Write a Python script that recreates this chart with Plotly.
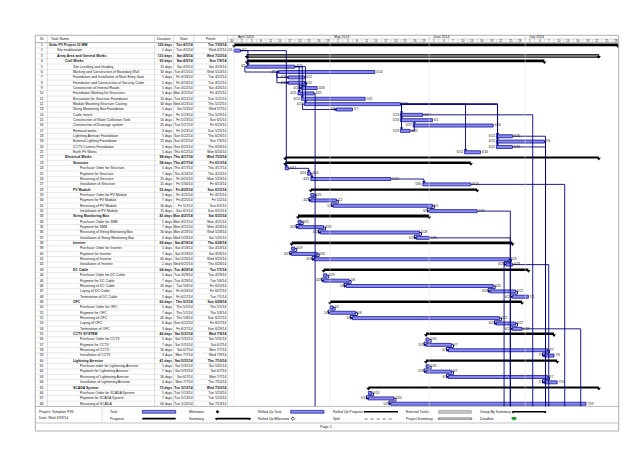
import plotly.graph_objects as go
from datetime import datetime, timedelta

W, H = 638, 452
FONT = "Liberation Sans, Arial, sans-serif"

# ---------------- data ----------------
task_names = [
    "Solar PV Project 10 MW", "Site mobilization", "Array Area and General Works", "Civil Works",
    "Site Levelling and Grading", "Marking and Construction of Boundary Wall",
    "Foundation and Installation of Main Entry Gate", "Foundation and Construction of Security Cabin",
    "Construction of Internal Roads", "Foundation Marking for Structures",
    "Excavation for Structure Foundation", "Module Mounting Structure Casting",
    "String Monitoring Box Foundation", "Cable trench", "Construction of Water Collection Tank",
    "Construction of Drainage system", "Removal works", "Lightning Arrestor Foundation",
    "External Lighting Foundation", "CCTV Camera Foundation", "Earth Pit Works",
    "Electrical Works", "Structure", "Purchase Order for Structure", "Payment for Structure",
    "Receiving of Structure", "Installation of Structure", "PV Module",
    "Purchase Order for PV Module", "Payment for PV Module", "Receiving of PV Module",
    "Installation of PV Module", "String Monitoring Box", "Purchase Order for SMB",
    "Payment for SMB", "Receiving of String Monitoring Box", "Installation of String Monitoring Box",
    "Inverter", "Purchase Order for Inverter", "Payment for Inverter", "Receiving of Inverter",
    "Installation of Inverter", "DC Cable", "Purchase Order for DC Cable", "Payment for DC Cable",
    "Receiving of DC Cable", "Laying of DC Cable", "Termination of DC Cable", "OFC",
    "Purchase Order for OFC", "Payment for OFC", "Receiving of OFC", "Laying of OFC",
    "Termination of OFC", "CCTV SYSTEM", "Purchase Order for CCTV", "Payment for CCTV",
    "Receiving of CCTV", "Installation of CCTV", "Lightning Arrestor",
    "Purchase order for Lightening Arrestor", "Payment for Lightening Arrestor",
    "Receiving of Lightening Arrestor", "Installation of Lightening Arrestor", "SCADA System",
    "Purchase Order for SCADA System", "Payment for SCADA System", "Receiving of SCADA",
]
outline_levels = [0, 1, 1, 2] + [3] * 17 + [2, 3, 4, 4, 4, 4, 3, 4, 4, 4, 4, 3, 4, 4, 4, 4,
                  3, 4, 4, 4, 4, 3, 4, 4, 4, 4, 4, 3, 4, 4, 4, 4, 4, 3, 4, 4, 4, 4,
                  3, 4, 4, 4, 4, 3, 4, 4, 4]
durations = [
    "120 days", "2 days", "110 days", "93 days", "15 days", "30 days", "5 days", "5 days",
    "5 days", "5 days", "20 days", "30 days", "5 days", "7 days", "10 days", "25 days",
    "3 days", "5 days", "15 days", "5 days", "5 days", "98 days", "58 days", "5 days",
    "7 days", "25 days", "15 days", "52 days", "5 days", "7 days", "30 days", "15 days",
    "41 days", "5 days", "7 days", "30 days", "4 days", "69 days", "5 days", "7 days",
    "60 days", "2 days", "64 days", "5 days", "7 days", "45 days", "7 days", "5 days",
    "60 days", "5 days", "7 days", "45 days", "6 days", "3 days", "40 days", "5 days",
    "7 days", "30 days", "3 days", "41 days", "5 days", "7 days", "30 days", "4 days",
    "72 days", "5 days", "7 days", "60 days",
]
start_text = [
    "Tue 4/1/14", "Tue 4/1/14", "Sat 4/5/14", "Sat 4/5/14", "Sat 4/5/14", "Tue 4/15/14",
    "Fri 4/18/14", "Fri 4/18/14", "Tue 4/22/14", "Mon 4/21/14", "Tue 4/22/14", "Wed 4/23/14",
    "Sat 5/3/14", "Fri 5/23/14", "Fri 5/23/14", "Tue 5/27/14", "Fri 5/23/14", "Sun 6/22/14",
    "Sun 6/22/14", "Sun 6/22/14", "Thu 6/12/14", "Thu 4/17/14", "Thu 4/17/14", "Thu 4/17/14",
    "Thu 4/24/14", "Fri 4/25/14", "Fri 5/30/14", "Fri 4/25/14", "Fri 4/25/14", "Fri 4/25/14",
    "Fri 5/2/14", "Sun 6/1/14", "Mon 4/21/14", "Mon 4/21/14", "Mon 4/21/14", "Mon 4/28/14",
    "Wed 5/28/14", "Sat 4/19/14", "Sat 4/19/14", "Sat 4/19/14", "Sat 4/26/14", "Wed 6/25/14",
    "Tue 4/29/14", "Tue 4/29/14", "Tue 4/29/14", "Tue 5/6/14", "Fri 6/20/14", "Fri 6/27/14",
    "Thu 5/1/14", "Thu 5/1/14", "Thu 5/1/14", "Thu 5/8/14", "Sun 6/22/14", "Fri 6/27/14",
    "Sat 5/31/14", "Sat 5/31/14", "Sat 5/31/14", "Sat 6/7/14", "Mon 7/7/14", "Sat 5/31/14",
    "Sat 5/31/14", "Sat 5/31/14", "Sat 6/7/14", "Mon 7/7/14", "Tue 5/13/14", "Tue 5/13/14",
    "Tue 5/13/14", "Tue 5/20/14",
]
finish_text = [
    "Tue 7/29/14", "Wed 4/2/14", "Wed 7/23/14", "Sun 7/6/14", "Sat 4/19/14", "Wed 5/14/14",
    "Tue 4/22/14", "Tue 4/22/14", "Sat 4/26/14", "Fri 4/25/14", "Sun 5/11/14", "Thu 5/22/14",
    "Wed 5/7/14", "Thu 5/29/14", "Sun 6/1/14", "Fri 6/20/14", "Sun 5/25/14", "Thu 6/26/14",
    "Sun 7/6/14", "Thu 6/26/14", "Mon 6/16/14", "Wed 7/23/14", "Fri 6/13/14", "Thu 4/17/14",
    "Thu 4/24/14", "Mon 5/19/14", "Fri 6/13/14", "Sun 6/15/14", "Fri 4/25/14", "Fri 5/2/14",
    "Sun 6/1/14", "Sun 6/15/14", "Sat 5/31/14", "Mon 4/21/14", "Mon 4/28/14", "Wed 5/28/14",
    "Sat 5/31/14", "Thu 6/26/14", "Sat 4/19/14", "Sat 4/26/14", "Wed 6/25/14", "Thu 6/26/14",
    "Tue 7/1/14", "Tue 4/29/14", "Tue 5/6/14", "Fri 6/20/14", "Fri 6/27/14", "Tue 7/1/14",
    "Sun 6/29/14", "Thu 5/1/14", "Thu 5/8/14", "Sun 6/22/14", "Fri 6/27/14", "Sun 6/29/14",
    "Wed 7/9/14", "Sat 5/31/14", "Sat 6/7/14", "Mon 7/7/14", "Wed 7/9/14", "Thu 7/10/14",
    "Sat 5/31/14", "Sat 6/7/14", "Mon 7/7/14", "Thu 7/10/14", "Wed 7/23/14", "Tue 5/13/14",
    "Tue 5/20/14", "Sat 7/19/14",
]
summary_ids = [1, 3, 4, 22, 23, 28, 33, 38, 43, 49, 55, 60, 65]
po_ids = [24, 29, 34, 39, 44, 50, 56, 61, 66]
fs_links = [(2, 5), (2, 24), (8, 9), (5, 10), (5, 11), (5, 12), (12, 14), (12, 15), (12, 17),
            (17, 16), (12, 18), (12, 19), (12, 20), (12, 21),
            (24, 25), (25, 26), (26, 27), (29, 30), (30, 31), (31, 32),
            (34, 35), (35, 36), (36, 37), (39, 40), (40, 41), (41, 42),
            (44, 45), (45, 46), (46, 47), (47, 48), (50, 51), (51, 52), (52, 53), (53, 54),
            (56, 57), (57, 58), (58, 59), (61, 62), (62, 63), (63, 64), (66, 67), (67, 68)]
ss_links = [(5, 6), (6, 7), (6, 8), (12, 13)]
# successors printed on the next page (start dates)
offpage_links = [(10, "Sat 4/26/14"), (14, "Thu 7/3/14"), (18, "Mon 7/7/14"), (19, "Mon 7/7/14"),
                 (20, "Mon 7/7/14"), (27, "Sun 7/13/14"), (32, "Thu 6/26/14"), (37, "Thu 6/26/14"),
                 (41, "Wed 6/25/14"), (42, "Tue 7/8/14"), (54, "Fri 7/18/14")]
timeline_start = "2014-03-30"
month_labels = ["April 2014", "May 2014", "June 2014", "July 2014"]
month_starts = ["2014-04-01", "2014-05-01", "2014-06-01", "2014-07-01"]
header_labels = ["ID", "Task Name", "Duration", "Start", "Finish"]

# ---------------- geometry (pixels) ----------------
def X(px): return px / W
def Y(py): return 1 - py / H

FRAME_L, FRAME_T, FRAME_R, FRAME_B = 27.3, 27.3, 610.7, 423.0
HDR_MID = 31.0
ROW_TOP = 34.6
ROW_H = 5.35
N = len(task_names)
ROW_BOT = ROW_TOP + N * ROW_H
LEG_B = 415.0
GANTT_L = 219.6
PX_PER_DAY = 3.2
COL_LINES = [39.3, 146.7, 165.7, 185.7]

def parse(s):
    m, d, y = s.split()[1].split("/")
    return datetime(2000 + int(y), int(m), int(d))

t0 = datetime.fromisoformat(timeline_start)
t1 = t0 + timedelta(days=(FRAME_R - GANTT_L) / PX_PER_DAY)

ids = list(range(1, N + 1))
S = [parse(s) for s in start_text]
FD = [parse(f) for f in finish_text]
E = [f + timedelta(days=1) for f in FD]

fig = go.Figure()

# ---------------- table ----------------
gx, gy = [], []
for k in range(N + 1):
    gx += [FRAME_L, GANTT_L, None]
    gy += [k + 0.5, k + 0.5, None]
fig.add_trace(go.Scatter(x=gx, y=gy, xaxis="x2", yaxis="y", mode="lines",
                         line=dict(color="#d2d2d2", width=0.5), hoverinfo="skip"))

TFS = 3.45
def bold(i, s):
    return f"<b>{s}</b>" if i in summary_ids else s

INDENT = [41.0, 49.0, 57.0, 65.0, 72.0]
tcols = [
    ([33.6] * N, [str(i) for i in ids], "middle center"),
    ([INDENT[l] for l in outline_levels], [bold(i, n) for i, n in zip(ids, task_names)], "middle right"),
    ([164.2] * N, [bold(i, d) for i, d in zip(ids, durations)], "middle left"),
    ([184.6] * N, [bold(i, d) for i, d in zip(ids, start_text)], "middle left"),
    ([218.4] * N, [bold(i, d) for i, d in zip(ids, finish_text)], "middle left"),
]
for xs, txt, pos in tcols:
    fig.add_trace(go.Scatter(x=xs, y=ids, text=txt, mode="text", textposition=pos,
                             xaxis="x2", yaxis="y", cliponaxis=False,
                             textfont=dict(size=TFS, color="#111111", family=FONT), hoverinfo="skip"))

# ---------------- links ----------------
STUB = timedelta(days=0.6)
LAND = timedelta(days=0.35)
BH = 0.28
lx, ly = [], []
adx, ady, arx, ary = [], [], [], []

def add_fs(pe, yp, ss, ys, offpage=False):
    if ss >= pe:
        sx = ss + LAND
        lx.extend([pe, sx, sx, None]); ly.extend([yp, yp, ys - BH, None])
        if not offpage:
            adx.append(sx); ady.append(ys - BH - 0.2)
    else:
        a, b = pe + STUB, ss - STUB
        lx.extend([pe, a, a, b, b, ss, None]); ly.extend([yp, yp, yp + 0.5, yp + 0.5, ys, ys, None])
        if not offpage:
            arx.append(ss - timedelta(days=0.35)); ary.append(ys)

for p, s in fs_links:
    add_fs(E[p - 1], p, S[s - 1], s)
for p, st in offpage_links:
    add_fs(E[p - 1], p, parse(st), N + 4, offpage=True)
for p, s in ss_links:
    a = S[p - 1] - STUB
    lx.extend([S[p - 1], a, a, S[s - 1], None]); ly.extend([p, p, s, s, None])
    arx.append(S[s - 1] - timedelta(days=0.35)); ary.append(s)

fig.add_trace(go.Scatter(x=lx, y=ly, mode="lines", line=dict(color="#000080", width=0.9),
                         xaxis="x", yaxis="y", hoverinfo="skip"))

# ---------------- bars ----------------
def ms(i):
    return (E[i - 1] - S[i - 1]).total_seconds() * 1000

task_rows = [i for i in ids if i not in summary_ids]
fig.add_trace(go.Bar(orientation="h", y=task_rows, x=[ms(i) for i in task_rows],
                     base=[S[i - 1].strftime("%Y-%m-%d") for i in task_rows], width=0.56,
                     marker=dict(color="#8a8af4", line=dict(color="#15158e", width=0.8)),
                     xaxis="x", yaxis="y", hoverinfo="skip"))

sum_black = [i for i in summary_ids if i != 3]
fig.add_trace(go.Bar(orientation="h", y=sum_black, x=[ms(i) for i in sum_black],
                     base=[S[i - 1].strftime("%Y-%m-%d") for i in sum_black], width=0.34,
                     marker=dict(color="#000000", line=dict(width=0)),
                     xaxis="x", yaxis="y", hoverinfo="skip"))
fig.add_trace(go.Bar(orientation="h", y=[3], x=[ms(3)], base=[S[2].strftime("%Y-%m-%d")], width=0.5,
                     marker=dict(color="#8c8c8c", line=dict(color="#000000", width=0.9)),
                     xaxis="x", yaxis="y", hoverinfo="skip"))
capx, capy = [], []
for i in summary_ids:
    capx += [S[i - 1], E[i - 1]]
    capy += [i + 0.18, i + 0.18]
fig.add_trace(go.Scatter(x=capx, y=capy, mode="markers", xaxis="x", yaxis="y",
                         marker=dict(symbol="triangle-down", size=3.6, color="#000000",
                                     line=dict(width=0)), hoverinfo="skip"))

# arrowheads
fig.add_trace(go.Scatter(x=adx, y=ady, mode="markers", xaxis="x", yaxis="y",
                         marker=dict(symbol="triangle-down", size=3.0, color="#000080", line=dict(width=0)),
                         hoverinfo="skip"))
fig.add_trace(go.Scatter(x=arx, y=ary, mode="markers", xaxis="x", yaxis="y",
                         marker=dict(symbol="triangle-right", size=3.0, color="#000080", line=dict(width=0)),
                         hoverinfo="skip"))

# date labels
def md(d):
    return f"{d.month}/{d.day}"

left_rows = [i for i in task_rows if i not in po_ids]
fig.add_trace(go.Scatter(x=[S[i - 1] - timedelta(days=0.45) for i in left_rows], y=left_rows,
                         text=[md(S[i - 1]) for i in left_rows], mode="text", textposition="middle left",
                         xaxis="x", yaxis="y", cliponaxis=True,
                         textfont=dict(size=3.2, color="#111111", family=FONT), hoverinfo="skip"))
fig.add_trace(go.Scatter(x=[E[i - 1] + timedelta(days=0.45) for i in task_rows], y=task_rows,
                         text=[md(FD[i - 1]) for i in task_rows], mode="text", textposition="middle right",
                         xaxis="x", yaxis="y", cliponaxis=True,
                         textfont=dict(size=3.2, color="#111111", family=FONT), hoverinfo="skip"))

# ---------------- shapes & annotations ----------------
shapes, ann = [], []
GRID = "#a8a8a8"

def pline(x0, y0, x1, y1, color=GRID, width=0.6, dash=None):
    d = dict(type="line", xref="paper", yref="paper", x0=X(x0), y0=Y(y0), x1=X(x1), y1=Y(y1),
             line=dict(color=color, width=width))
    if dash:
        d["line"]["dash"] = dash
    shapes.append(d)

def ptext(x, y, t, size=3.5, anchor="left", color="#111111"):
    ann.append(dict(xref="paper", yref="paper", x=X(x), y=Y(y), text=t, showarrow=False,
                    xanchor=anchor, yanchor="middle", font=dict(size=size, color=color, family=FONT)))

# frame
shapes.append(dict(type="rect", xref="paper", yref="paper", x0=X(FRAME_L), y0=Y(FRAME_B),
                   x1=X(FRAME_R), y1=Y(FRAME_T), line=dict(color="#9a9a9a", width=0.8)))
pline(FRAME_L, ROW_TOP, FRAME_R, ROW_TOP, "#8c8c8c", 0.6)
pline(FRAME_L, ROW_BOT, FRAME_R, ROW_BOT, "#8c8c8c", 0.6)
pline(FRAME_L, LEG_B, FRAME_R, LEG_B, "#9a9a9a", 0.6)
pline(GANTT_L, HDR_MID, FRAME_R, HDR_MID, "#b4b4b4", 0.5)
for cx in COL_LINES + [GANTT_L]:
    pline(cx, FRAME_T, cx, ROW_BOT, "#b8b8b8", 0.5)

# table header
hdr_pos = [(33.6, "center"), (41.0, "left"), (156.2, "center"), (175.7, "center"), (202.6, "center")]
for (hx, anc), lab in zip(hdr_pos, header_labels):
    ptext(hx, 31.0, lab, 3.6, anc)

# timescale header
tick = t0
while tick < t1:
    shapes.append(dict(type="line", xref="x", yref="paper", x0=tick, x1=tick, y0=Y(ROW_TOP), y1=Y(HDR_MID),
                       line=dict(color="#b4b4b4", width=0.5)))
    ann.append(dict(xref="x", yref="paper", x=tick + timedelta(days=1.5), y=Y(32.85), text=str(tick.day),
                    showarrow=False, xanchor="center", yanchor="middle",
                    font=dict(size=3.1, color="#111111", family=FONT)))
    tick += timedelta(days=3)
for lab, ms_ in zip(month_labels, month_starts):
    d = datetime.fromisoformat(ms_)
    shapes.append(dict(type="line", xref="x", yref="paper", x0=d, x1=d, y0=Y(HDR_MID), y1=Y(FRAME_T),
                       line=dict(color="#b4b4b4", width=0.5)))
    shapes.append(dict(type="line", xref="x", yref="paper", x0=d, x1=d, y0=Y(ROW_BOT), y1=Y(ROW_TOP),
                       line=dict(color="#e2e2e2", width=0.5)))
    ann.append(dict(xref="x", yref="paper", x=d + timedelta(days=0.5), y=Y(29.2), text=lab,
                    showarrow=False, xanchor="left", yanchor="middle",
                    font=dict(size=3.5, color="#111111", family=FONT)))

# legend block
L1, L2 = 403.8, 410.6
ptext(28.8, 404.4, "Project: Template PV6", 3.5)
ptext(28.8, 409.6, "Date: Wed 3/19/14", 3.5)
pline(94.0, ROW_BOT, 94.0, LEG_B, "#b8b8b8", 0.5)

def prect(x0, y0, x1, y1, fill, line, lw=0.7):
    shapes.append(dict(type="rect", xref="paper", yref="paper", x0=X(x0), y0=Y(y1), x1=X(x1), y1=Y(y0),
                       fillcolor=fill, line=dict(color=line, width=lw)))

def ppath(pts, fill, line="rgba(0,0,0,0)", lw=0):
    p = "M " + " L ".join(f"{X(a):.5f},{Y(b):.5f}" for a, b in pts) + " Z"
    shapes.append(dict(type="path", xref="paper", yref="paper", path=p, fillcolor=fill,
                       line=dict(color=line, width=lw)))

def caps(x0, x1, y, col):
    for cx in (x0, x1):
        ppath([(cx - 1.4, y - 0.6), (cx + 1.4, y - 0.6), (cx, y + 1.9)], col)

def diamond(cx, cy, s, fill, line, lw):
    ppath([(cx, cy - s), (cx + s, cy), (cx, cy + s), (cx - s, cy)], fill, line, lw)

ptext(100.0, L1, "Task"); prect(134.3, L1 - 1.4, 167.7, L1 + 1.4, "#8a8af4", "#15158e")
ptext(100.0, L2, "Progress"); prect(134.3, L2 - 0.8, 167.7, L2 + 0.8, "#000000", "#000000", 0)
ptext(179.3, L1, "Milestone"); diamond(209.5, L1, 1.8, "#000000", "#000000", 0)
ptext(179.3, L2, "Summary"); prect(208.3, L2 - 0.8, 241.7, L2 + 0.8, "#000000", "#000000", 0); caps(208.3, 241.7, L2, "#000000")
ptext(248.3, L1, "Rolled Up Task"); prect(282.7, L1 - 1.4, 316.0, L1 + 1.4, "#8a8af4", "#15158e")
ptext(248.3, L2, "Rolled Up Milestone"); diamond(285.0, L2, 1.8, "#ffffff", "#000000", 0.7)
ptext(322.7, L1, "Rolled Up Progress"); prect(356.0, L1 - 0.8, 390.0, L1 + 0.8, "#000000", "#000000", 0)
ptext(322.7, L2, "Split"); pline(356.7, L2 + 0.4, 386.7, L2 + 0.4, "#555555", 0.8, "dot")
ptext(396.0, L1, "External Tasks"); prect(430.7, L1 - 1.4, 463.3, L1 + 1.4, "#c6c6c6", "#9a9a9a")
ptext(396.0, L2, "Project Summary"); prect(430.7, L2 - 0.9, 463.3, L2 + 0.9, "#bdbdbd", "#8a8a8a"); caps(430.7, 463.3, L2, "#8a8a8a")
ptext(470.0, L1, "Group By Summary"); prect(505.0, L1 - 0.8, 537.3, L1 + 0.8, "#000000", "#000000", 0); caps(505.0, 537.3, L1, "#000000")
ptext(470.0, L2, "Deadline")
ppath([(503.8, L2 - 1.6), (508.2, L2 - 1.6), (508.2, L2 - 0.2), (509.4, L2 - 0.2), (506.0, L2 + 2.0),
       (502.6, L2 - 0.2), (503.8, L2 - 0.2)], "#1f9a2a")
ptext(318.0, 419.0, "Page 1", 3.7, "center")

fig.update_layout(
    width=W, height=H, margin=dict(l=0, r=0, t=0, b=0, pad=0),
    paper_bgcolor="white", plot_bgcolor="rgba(0,0,0,0)", showlegend=False,
    barmode="overlay", font=dict(family=FONT),
    xaxis=dict(type="date", domain=[X(GANTT_L), X(FRAME_R)],
               range=[t0.strftime("%Y-%m-%d %H:%M:%S"), t1.strftime("%Y-%m-%d %H:%M:%S")],
               visible=False, anchor="y", fixedrange=True),
    xaxis2=dict(domain=[X(FRAME_L), X(GANTT_L)], range=[FRAME_L, GANTT_L], visible=False,
                anchor="y", fixedrange=True),
    yaxis=dict(domain=[Y(ROW_BOT), Y(ROW_TOP)], range=[N + 0.5, 0.5], visible=False,
               anchor="x", fixedrange=True),
    shapes=shapes, annotations=ann,
)

fig.write_html("out.html")
